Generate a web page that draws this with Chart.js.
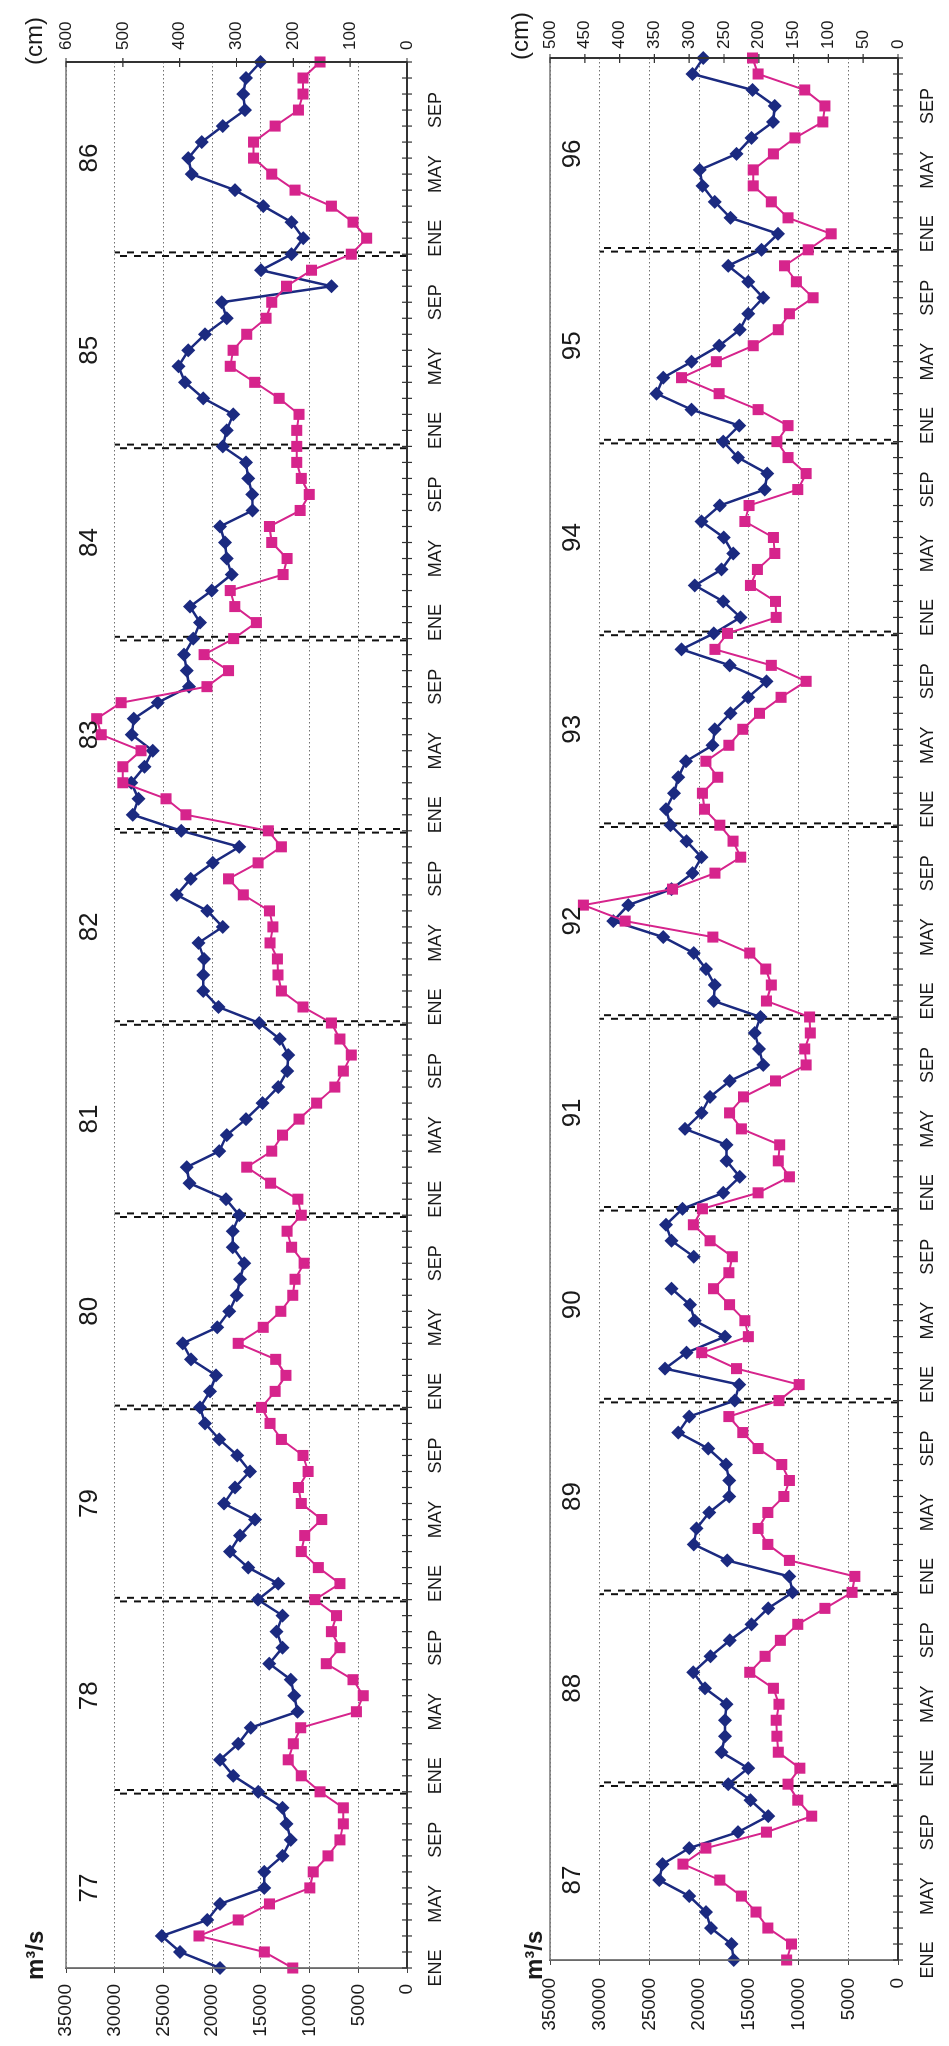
<!DOCTYPE html>
<html>
<head>
<meta charset="utf-8">
<script src="https://cdn.jsdelivr.net/npm/chart.js@4.4.1/dist/chart.umd.min.js"></script>
<style>
  html, body { margin: 0; padding: 0; background: #fff; }
  body { width: 949px; height: 2046px; position: relative; overflow: hidden; }
  .panel { position: absolute; left: 0; top: 0; transform-origin: 0 0; }
  .panel canvas { display: block; }
  /* both charts are drawn landscape and turned a quarter counter-clockwise */
  #panelA { transform: translate(0px, 2046px) rotate(-90deg); }
  #panelB { transform: translate(455px, 2046px) rotate(-90deg); }
</style>
</head>
<body>
<div class="panel" id="panelA"><canvas id="chartA" width="2046" height="455"></canvas></div>
<div class="panel" id="panelB"><canvas id="chartB" width="2046" height="494"></canvas></div>
<script>
// Monthly series, ENE 77 .. DIC 86 and ENE 87 .. DIC 96
const MONTHS = ['ENE', 'FEB', 'MAR', 'ABR', 'MAY', 'JUN', 'JUL', 'AGO', 'SEP', 'OCT', 'NOV', 'DIC'];
const YEARS_A = ['77', '78', '79', '80', '81', '82', '83', '84', '85', '86'];
const YEARS_B = ['87', '88', '89', '90', '91', '92', '93', '94', '95', '96'];

// caudal (m3/s)
const FLOW_A = [
  19190, 23290, 25170, 20490, 19190, 14650, 14650, 12770, 11920, 12360, 12770, 15270,
  17830, 19190, 17310, 16050, 11240, 11580, 11920, 14140, 12770, 13390, 12770, 15300,
  13220, 16290, 18170, 17140, 15610, 18780, 17660, 16120, 17420, 19260, 20730, 21240,
  20220, 19600, 22160, 23020, 19470, 18240, 17480, 17140, 16700, 17890, 17890, 17210,
  18580, 22330, 22610, 19260, 18510, 16530, 14820, 13220, 12290, 12190, 13050, 15160,
  19360, 20900, 20900, 20830, 21410, 18920, 20490, 23630, 22200, 19940, 17210, 23170,
  28140, 27560, 28300, 26950, 26100, 28240, 28040, 25590, 22370, 22610, 22880, 21930,
  21240, 22270, 20050, 18000, 18510, 18680, 19190, 15850, 15880, 16290, 16530, 18920,
  18510, 17830, 20900, 22780, 23460, 22440, 20730, 18510, 19020, 7750, 14990, 11850,
  10650, 11850, 14750, 17660, 22100, 22440, 21070, 18920, 16630, 16800, 16530, 15030
];
const FLOW_B = [
  16510, 16750, 18820, 19320, 21000, 24010, 23680, 21000, 16080, 13060, 14840, 17080,
  15070, 17750, 17410, 17410, 17250, 19420, 20600, 18850, 16910, 14740, 13060, 10600,
  10950, 17180, 20530, 20260, 18990, 16980, 16980, 17310, 19090, 22100, 21000, 16410,
  15970, 23440, 21270, 17410, 20430, 20930, 22770, null, 20530, 22770, 23340, 21670,
  17580, 15910, 17250, 17250, 21430, 19760, 18920, 16910, 13560, 13970, 14400, 13830,
  18520, 18420, 19320, 20530, 23610, 28630, 27130, 22770, 20660, 19760, 21270, 22870,
  23340, 22520, 22100, 21330, 18650, 18420, 16850, 15070, 13230, 16910, 21770, 18520,
  15840, 17580, 20430, 17750, 16580, 17520, 19760, 17920, 13400, 13160, 16080, 17580,
  15970, 20760, 24280, 23610, 20760, 17980, 15910, 15070, 13560, 15070, 17080, 13730,
  12060, 16850, 18420, 19660, 19930, 16240, 14740, 12560, 12390, 14640, 20660, 19590
];

// nivel (cm)
const LEVEL_A = [
  201, 251, 366, 297, 242, 171, 165, 139, 118, 112, 112, 153,
  186, 209, 200, 187, 89, 77, 95, 142, 118, 133, 124, 162,
  118, 156, 186, 180, 150, 186, 191, 174, 183, 221, 241, 256,
  232, 213, 231, 297, 253, 222, 201, 197, 181, 203, 211, 186,
  192, 240, 282, 238, 219, 190, 159, 127, 112, 98, 118, 133,
  183, 221, 227, 228, 241, 236, 242, 288, 314, 262, 221, 244,
  389, 424, 500, 500, 468, 538, 546, 503, 352, 314, 357, 305,
  265, 303, 311, 218, 211, 238, 242, 188, 172, 186, 194, 194,
  194, 190, 225, 268, 311, 306, 282, 248, 238, 212, 168, 98,
  71, 95, 133, 197, 238, 270, 270, 232, 191, 183, 183, 153
];
const LEVEL_B = [
  160, 153, 187, 204, 225, 256, 309, 276, 189, 124, 144, 158,
  141, 172, 174, 175, 171, 179, 213, 191, 169, 144, 105, 66,
  62, 156, 187, 201, 187, 164, 156, 167, 201, 223, 243, 171,
  142, 232, 282, 215, 220, 242, 265, 243, 238, 270, 294, 281,
  201, 156, 172, 170, 225, 242, 222, 176, 132, 134, 126, 127,
  189, 182, 190, 213, 266, 392, 452, 324, 263, 226, 237, 256,
  278, 281, 259, 276, 243, 223, 199, 168, 132, 182, 263, 245,
  175, 176, 212, 202, 177, 179, 220, 214, 144, 132, 158, 174,
  158, 201, 257, 311, 261, 208, 172, 156, 122, 146, 163, 129,
  96, 158, 182, 208, 208, 179, 148, 108, 105, 134, 201, 209
];

const FLOW_MAX = 35000, FLOW_STEP = 5000;
const LEVEL_MAX_A = 600, LEVEL_STEP_A = 100;
const LEVEL_MAX_B = 500, LEVEL_STEP_B = 50;
const DIVIDER_TOP = 30000;   // year separators run from 0 up to this flow

const BLUE = '#1b2a80';
const PINK = '#d6248c';

Chart.defaults.font.family = "'Liberation Sans', Arial, sans-serif";
Chart.defaults.color = '#1a1a1a';

// separators, frame, crossing ticks, year numbers and axis titles
const panelDecor = {
  id: 'panelDecor',
  beforeDatasetsDraw(chart, args, o) {
    const { ctx, chartArea: a, scales: { x, y } } = chart;
    const top = y.getPixelForValue(DIVIDER_TOP);
    ctx.save();
    ctx.strokeStyle = '#111';
    ctx.lineWidth = 2;
    ctx.setLineDash([7, 7]);
    for (let k = 1; k < o.years.length; k++) {
      const px = x.getPixelForValue(12 * k - 1);
      [[-1.8, 0], [1.8, 7]].forEach(([dx, off]) => {
        ctx.lineDashOffset = off;
        ctx.beginPath();
        ctx.moveTo(px + dx, a.bottom);
        ctx.lineTo(px + dx, top);
        ctx.stroke();
      });
    }
    ctx.restore();
  },
  afterDraw(chart, args, o) {
    const { ctx, chartArea: a, scales: { x, y2 } } = chart;
    ctx.save();
    ctx.strokeStyle = '#777';
    ctx.lineWidth = 1.5;
    ctx.strokeRect(a.left, a.top, a.right - a.left, a.bottom - a.top);

    ctx.strokeStyle = '#333';
    ctx.lineWidth = 2;
    ctx.beginPath();
    ctx.moveTo(a.left, a.bottom); ctx.lineTo(a.right, a.bottom);
    ctx.moveTo(a.right, a.top); ctx.lineTo(a.right, a.bottom);
    ctx.stroke();

    ctx.lineWidth = 1.2;
    ctx.beginPath();
    x.ticks.forEach((t, i) => {
      const px = x.getPixelForValue(i);
      ctx.moveTo(px, a.bottom - 5); ctx.lineTo(px, a.bottom + 5);
    });
    y2.ticks.forEach(t => {
      const py = y2.getPixelForValue(t.value);
      ctx.moveTo(a.right - 5, py); ctx.lineTo(a.right + 4, py);
    });
    ctx.stroke();

    ctx.fillStyle = '#1a1a1a';
    ctx.font = "26px 'Liberation Sans', Arial, sans-serif";
    ctx.textAlign = 'center';
    ctx.textBaseline = 'middle';
    o.years.forEach((yr, k) => {
      ctx.fillText(yr, x.getPixelForValue(12 * k + 5), a.top + o.yearGap);
    });

    ctx.textAlign = 'left';
    ctx.textBaseline = 'alphabetic';
    ctx.font = "bold 24px 'Liberation Sans', Arial, sans-serif";
    ctx.fillText('m³/s', o.flowTitle[0], o.flowTitle[1]);
    ctx.font = "24px 'Liberation Sans', Arial, sans-serif";
    ctx.fillText('(cm)', o.levelTitle[0], o.levelTitle[1]);
    ctx.restore();
  }
};

function monthLabels(years) {
  const out = [];
  years.forEach(() => MONTHS.forEach(m => out.push(m)));
  return out;
}

function makePanel(id, years, flow, level, levelMax, levelStep, lay) {
  const labels = monthLabels(years);
  const canvas = document.getElementById(id);
  return new Chart(canvas.getContext('2d'), {
    type: 'line',
    data: {
      labels: labels,
      datasets: [
        {
          label: 'Nivel (cm)',
          data: level,
          yAxisID: 'y2',
          borderColor: PINK,
          backgroundColor: PINK,
          borderWidth: 2,
          pointStyle: 'rect',
          pointRadius: 7.8,
          pointBorderWidth: 0,
          tension: 0,
          clip: false,
          order: 0
        },
        {
          label: 'Caudal (m³/s)',
          data: flow,
          yAxisID: 'y',
          borderColor: BLUE,
          backgroundColor: BLUE,
          borderWidth: 2.5,
          pointStyle: 'rectRot',
          pointRadius: 7,
          pointBorderWidth: 0,
          tension: 0,
          clip: false,
          order: 1
        }
      ]
    },
    options: {
      responsive: false,
      animation: false,
      events: [],
      layout: { padding: { top: lay.top, left: 0, right: 0, bottom: 0 } },
      plugins: {
        legend: { display: false },
        tooltip: { enabled: false },
        panelDecor: {
          years: years,
          yearGap: lay.yearGap,
          flowTitle: lay.flowTitle,
          levelTitle: lay.levelTitle
        }
      },
      scales: {
        x: {
          type: 'category',
          offset: false,
          grid: { drawOnChartArea: false, drawTicks: false },
          border: { display: false },
          ticks: {
            autoSkip: false,
            maxRotation: 0,
            minRotation: 0,
            padding: lay.xPad,
            font: { size: 18 },
            callback: (v, i) => (i % 4 === 0 ? labels[i] : '')
          },
          afterFit: s => { s.height = lay.height - lay.bottom; }
        },
        y: {
          position: 'left',
          min: 0,
          max: FLOW_MAX,
          ticks: { stepSize: FLOW_STEP, padding: lay.yPad, font: { size: 19 }, callback: v => String(v) },
          grid: { color: '#707070', lineWidth: 1, tickLength: 5, tickColor: '#444' },
          border: { display: true, color: '#444', width: 1.5, dash: [1.5, 2.5] },
          afterFit: s => { s.width = lay.yWidth; }
        },
        y2: {
          position: 'right',
          min: 0,
          max: levelMax,
          ticks: { stepSize: levelStep, padding: lay.y2Pad, font: { size: 17 }, callback: v => String(v) },
          grid: { drawOnChartArea: false, drawTicks: false },
          border: { display: false },
          afterFit: s => { s.width = lay.y2Width; }
        }
      }
    },
    plugins: [panelDecor]
  });
}

makePanel('chartA', YEARS_A, FLOW_A, LEVEL_A, LEVEL_MAX_A, LEVEL_STEP_A, {
  height: 455, top: 66, bottom: 407, yWidth: 78, y2Width: 62,
  xPad: 18, yPad: 11, y2Pad: 12, yearGap: 24,
  flowTitle: [66, 43], levelTitle: [1981, 42]
});
makePanel('chartB', YEARS_B, FLOW_B, LEVEL_B, LEVEL_MAX_B, LEVEL_STEP_B, {
  height: 494, top: 95, bottom: 443, yWidth: 86, y2Width: 58,
  xPad: 19, yPad: 13, y2Pad: 9, yearGap: 23,
  flowTitle: [66, 87], levelTitle: [1986, 73]
});
</script>
</body>
</html>
